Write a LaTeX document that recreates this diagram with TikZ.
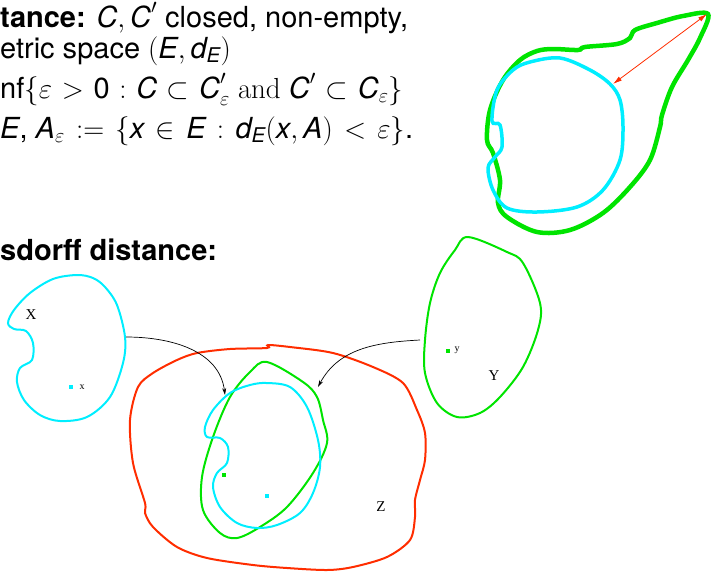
\documentclass[tikz,border=0pt]{standalone}
\usepackage{fix-cm}
\usepackage{amsmath}
\usepackage[no-math]{fontspec}
\setmainfont{TeX Gyre Heros}
\newfontfamily\lblfont{Liberation Serif}
\usepackage{tikz}
\usetikzlibrary{arrows.meta}
\definecolor{cyn}{RGB}{0,238,255}
\definecolor{grn}{RGB}{0,228,0}
\definecolor{rd}{RGB}{255,45,0}
\newcommand{\sv}[1]{\text{\itshape #1}}

\begin{document}
\begin{tikzpicture}[x=1pt, y=-1pt,
  txt/.style={anchor=base west, inner sep=0pt, font=\fontsize{29}{34}\selectfont},
  lbl/.style={inner sep=0pt, font=\lblfont\fontsize{15}{15}\selectfont},
  sml/.style={inner sep=0pt, font=\lblfont\fontsize{10}{10}\selectfont},
  pt/.style={inner sep=0pt, minimum size=4pt},
  cset/.style={draw=cyn, line width=2pt},
  gset/.style={draw=grn, line width=2pt},
  rset/.style={draw=rd, line width=2pt},
  arr/.style={-{Stealth[length=7pt, width=4pt]}, line width=0.7pt},
  darr/.style={{Latex[length=9pt, width=5pt]}-{Latex[length=9pt, width=5pt]}, draw=rd, line width=0.8pt}]
\useasboundingbox (0,0) rectangle (711,573);
\node[txt] (l1) at (0,27) {\textbf{tance:} $\sv{C}, \sv{C}'$ closed, non-empty,};
\node[txt] (l2) at (0,58) {etric space $(\sv{E}, \sv{d}_{\sv{E}})$};
\node[txt] (l3) at (0,98) {\thickmuskip=6mu nf$\{\varepsilon > \text{0} : \sv{C} \subset \sv{C}'_{\varepsilon}\ \mathrm{and}\ \sv{C}' \subset \sv{C}_{\varepsilon}\}$};
\node[txt] (l4) at (0,138) {\thickmuskip=7mu $\sv{E}$, $\sv{A}_{\varepsilon} := \{\sv{x} \in \sv{E} : \sv{d}_{\sv{E}}(\sv{x}, \sv{A}) < \varepsilon\}$.};
\node[txt] (hd) at (0,260) {\textbf{sdorff distance:}};
\draw[gset, line width=4.5pt] plot[smooth cycle, tension=0.55] coordinates {(708,14) (683,16) (657,23) (635,30) (630,38) (617,44) (585,47) (578,50) (553,49) (537,51) (520,60) (503,80) (490,110) (487,140) (493,153) (500,180) (498,203) (507,217) (537,232) (570,230) (603,213) (630,187) (650,160) (660,127) (662,115) (672,87) (688,60) (700,38)};
\draw[cset, line width=3.5pt] plot[smooth cycle, tension=0.55] coordinates {(560,58) (530,62) (513,70) (497,90) (492,121) (500,125) (502,147) (495,157) (488,168) (493,190) (507,208) (537,212) (577,207) (603,190) (620,160) (623,127) (620,100) (610,84) (590,70)};
\coordinate (ci) at (613,84);
\coordinate (gt) at (707,14);
\draw[darr] (ci) -- (gt);
\draw[cset] plot[smooth cycle, tension=0.55] coordinates {(93,278) (77,275) (53,279) (30,293) (14,310) (8,323) (14,329) (26,331) (33,343) (32,360) (20,368) (17,382) (24,400) (40,415) (60,421) (87,417) (110,397) (123,363) (125,337) (117,305) (105,287)};
\draw[gset] plot[smooth cycle, tension=0.55] coordinates {(468,237) (507,252) (523,263) (540,303) (538,330) (523,367) (500,397) (480,413) (457,417) (437,403) (425,373) (425,340) (430,303) (440,273) (455,250)};
\draw[rset] plot[smooth cycle, tension=0.5] coordinates {(138,387) (130,420) (133,463) (145,503) (145,513) (153,527) (177,547) (207,558) (253,565) (287,568) (327,570) (353,567) (387,557) (410,540) (415,517) (415,500) (420,480) (425,460) (425,433) (417,410) (403,383) (373,367) (333,353) (290,347) (268,345) (267,348) (230,349) (197,353) (177,360) (153,373)};
\draw[gset] plot[smooth cycle, tension=0.55] coordinates {(267,362) (303,382) (317,397) (323,420) (327,443) (313,473) (287,507) (260,527) (237,538) (220,533) (203,510) (202,477) (213,437) (230,397) (250,372)};
\draw[cset] plot[smooth cycle, tension=0.55] coordinates {(267,383) (290,387) (307,407) (318,440) (320,467) (313,493) (300,513) (277,525) (257,528) (237,523) (220,507) (213,487) (217,473) (227,463) (228,447) (220,438) (207,437) (205,427) (213,410) (230,393) (250,385)};
\foreach \n/\c/\x/\y in {px/cyn/71/387, pz/cyn/267/496, pg/grn/224/475, py/grn/448/351}
  \node[pt, fill=\c] (\n) at (\x,\y) {};
\node[lbl] (lx) at (31,315) {X};
\node[sml] (sx) at (82,387) {x};
\node[lbl] (ly) at (494,376) {Y};
\node[sml] (sy) at (457,350) {y};
\node[lbl] (lz) at (381,507) {Z};
\coordinate (xo) at (126,337);
\coordinate (zl) at (225,395);
\coordinate (yo) at (420,340);
\coordinate (zr) at (318,387);
\draw[arr] (xo) to[out=0, in=97] (zl);
\draw[arr] (yo) to[out=183, in=62] (zr);
\end{tikzpicture}
\end{document}
